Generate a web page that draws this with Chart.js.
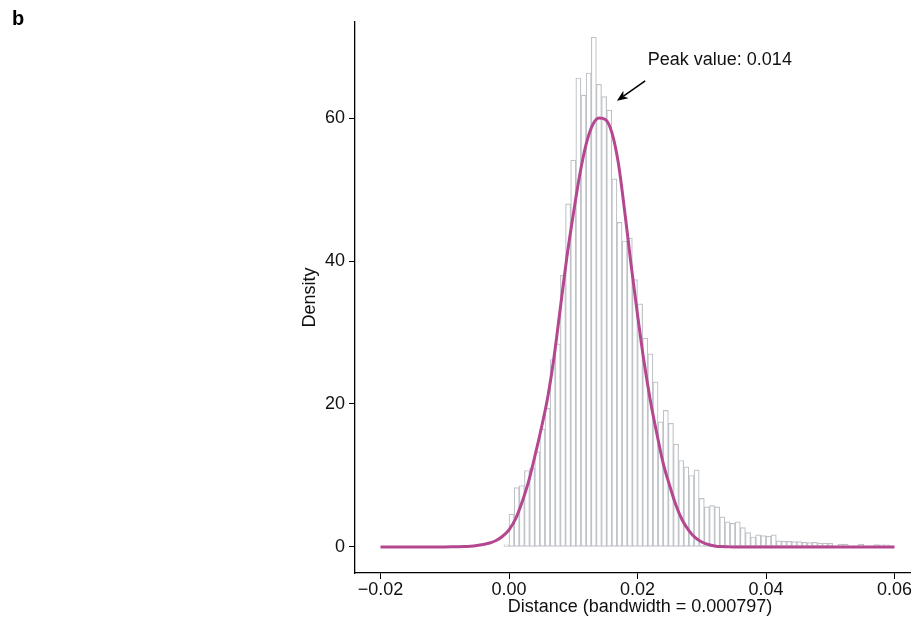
<!DOCTYPE html>
<html>
<head>
<meta charset="utf-8">
<script src="https://cdn.jsdelivr.net/npm/chart.js@4/dist/chart.umd.min.js"></script>
<style>
  html, body { margin:0; padding:0; background:#fff; overflow:hidden; width:911px; height:625px; }
  canvas { display:block; }
</style>
</head>
<body>
<canvas id="c" width="925" height="625"></canvas>
<script>
// ---- data ----
const binLeft = -0.0008;      // left edge of first histogram bin
const binWidth = 0.0008;      // histogram bin width
const histDensity = [
  0.3, 4.6, 8.3, 8.6, 10.7, 11.0, 13.3, 16.5, 19.4, 26.2,
  28.4, 38.0, 48.0, 54.1, 65.6, 63.2, 66.3, 71.3, 64.7, 63.0,
  61.1, 51.5, 45.4, 42.8, 43.2, 37.4, 34.0, 29.2, 27.0, 23.1,
  17.5, 19.1, 17.3, 14.4, 12.1, 11.2, 10.0, 10.8, 6.8, 5.6,
  5.8, 5.6, 4.2, 3.5, 3.3, 3.5, 2.7, 2.0, 1.4, 1.7,
  1.6, 1.5, 1.7, 0.85, 0.8, 0.8, 0.75, 0.75, 0.65, 0.6,
  0.65, 0.55, 0.55, 0.5, 0.15, 0.4, 0.4, 0.1, 0.15, 0.4,
  0.1, 0.15, 0.35, 0.3, 0.3
];
const curveStart = -0.02, curveStep = 0.001;  // x grid of the density curve
const curveDensity = [
  0, 0, 0, 0, 0, 0, 0, 0, 0, 0,
  0.01, 0.02, 0.03, 0.05, 0.1, 0.2, 0.35, 0.55, 0.9, 1.5,
  2.4, 3.9, 6.2, 9.0, 12.6, 16.5, 20.8, 26.5, 33.5, 40.5,
  46.5, 52.0, 56.3, 59.0, 60.0, 59.8, 58.0, 53.8, 47.0, 39.5,
  32.5, 26.0, 20.5, 15.9, 11.7, 8.6, 5.8, 3.7, 2.3, 1.3,
  0.7, 0.35, 0.15, 0.05, 0.02, 0, 0, 0, 0, 0,
  0, 0, 0, 0, 0, 0, 0, 0, 0, 0,
  0, 0, 0, 0, 0, 0, 0, 0, 0, 0, 0
];
const xTicks = [-0.02, 0.00, 0.02, 0.04, 0.06];
const xTickLabels = ['\u22120.02', '0.00', '0.02', '0.04', '0.06'];
const yTicks = [0, 20, 40, 60];
const yTickLabels = ['0', '20', '40', '60'];
const xTitle = 'Distance (bandwidth = 0.000797)';
const yTitle = 'Density';
const panelLabel = 'b';
const annotText = 'Peak value: 0.014';
const annotTextAt = [0.0216, 68.1];
const arrowFrom = [0.0212, 65.2];
const arrowTo = [0.0168, 62.4];

// ---- build datasets ----
const histPoints = histDensity.map((v, i) => ({ x: binLeft + (i + 0.5) * binWidth, y: v }));
const curvePoints = curveDensity.map((v, i) => ({ x: curveStart + i * curveStep, y: v }));

const FONT = 'Liberation Sans, Arial, Helvetica, sans-serif';

const annotPlugin = {
  id: 'annot',
  afterDraw(chart) {
    const ctx = chart.ctx, xs = chart.scales.x, ys = chart.scales.y;
    ctx.save();
    ctx.fillStyle = '#000';
    ctx.font = 'bold 20px ' + FONT;
    ctx.textBaseline = 'alphabetic';
    ctx.textAlign = 'left';
    ctx.fillText(panelLabel, 12, 25);
    ctx.font = '18px ' + FONT;
    ctx.fillStyle = '#111';
    ctx.textBaseline = 'middle';
    ctx.fillText(annotText, xs.getPixelForValue(annotTextAt[0]), ys.getPixelForValue(annotTextAt[1]));
    const x1 = xs.getPixelForValue(arrowFrom[0]), y1 = ys.getPixelForValue(arrowFrom[1]);
    const x2 = xs.getPixelForValue(arrowTo[0]), y2 = ys.getPixelForValue(arrowTo[1]);
    const ang = Math.atan2(y2 - y1, x2 - x1);
    const hl = 11, hw = 4.5;
    const bx = x2 - hl * Math.cos(ang), by = y2 - hl * Math.sin(ang);
    ctx.strokeStyle = '#000';
    ctx.lineWidth = 1.5;
    ctx.beginPath();
    ctx.moveTo(x1, y1);
    ctx.lineTo(bx + 3 * Math.cos(ang), by + 3 * Math.sin(ang));
    ctx.stroke();
    ctx.fillStyle = '#000';
    ctx.beginPath();
    ctx.moveTo(x2, y2);
    ctx.lineTo(bx - hw * Math.sin(ang), by + hw * Math.cos(ang));
    ctx.lineTo(bx + 3 * Math.cos(ang), by + 3 * Math.sin(ang));
    ctx.lineTo(bx + hw * Math.sin(ang), by - hw * Math.cos(ang));
    ctx.closePath();
    ctx.fill();
    ctx.restore();
  }
};

new Chart(document.getElementById('c'), {
  data: {
    datasets: [
      {
        type: 'line',
        data: curvePoints,
        borderColor: '#B4478F',
        borderWidth: 3,
        pointRadius: 0,
        fill: false,
        cubicInterpolationMode: 'monotone',
        order: 0
      },
      {
        type: 'bar',
        data: histPoints,
        backgroundColor: '#ffffff',
        borderColor: '#BEC2C7',
        borderWidth: 1.2,
        borderSkipped: false,
        barPercentage: 1.0,
        categoryPercentage: 1.0,
        grouped: false,
        order: 1
      }
    ]
  },
  options: {
    responsive: false,
    animation: false,
    devicePixelRatio: 1,
    layout: { padding: { left: 295, top: 22, right: 0, bottom: 3 } },
    plugins: { legend: { display: false }, tooltip: { enabled: false } },
    scales: {
      x: {
        type: 'linear',
        offset: false,
        min: -0.023969,
        max: 0.064747,
        afterBuildTicks: s => { s.ticks = xTicks.map(v => ({ value: v })); },
        afterFit: s => { s.height = 49; },
        grid: { offset: false, drawOnChartArea: false, drawTicks: true, tickLength: 6, color: '#000', lineWidth: 1 },
        border: { display: true, color: '#000', width: 1.3 },
        ticks: {
          autoSkip: false, maxRotation: 0, padding: 0,
          color: '#111', font: { family: FONT, size: 18 },
          callback: v => xTickLabels[xTicks.findIndex(t => Math.abs(t - v) < 1e-9)]
        },
        title: { display: true, text: xTitle, color: '#111', font: { family: FONT, size: 18 }, padding: { top: 4, bottom: 4 } }
      },
      y: {
        type: 'linear',
        min: -3.64,
        max: 73.43,
        afterBuildTicks: s => { s.ticks = yTicks.map(v => ({ value: v })); },
        afterFit: s => { s.width = 60; },
        grid: { drawOnChartArea: false, drawTicks: true, tickLength: 6, color: '#000', lineWidth: 1 },
        border: { display: true, color: '#000', width: 1.3 },
        ticks: {
          autoSkip: false, padding: 4,
          color: '#111', font: { family: FONT, size: 18 },
          callback: v => yTickLabels[yTicks.indexOf(v)]
        },
        title: { display: true, text: yTitle, color: '#111', font: { family: FONT, size: 18 }, padding: { top: 4, bottom: 4 } }
      }
    }
  },
  plugins: [annotPlugin]
});
</script>
</body>
</html>
